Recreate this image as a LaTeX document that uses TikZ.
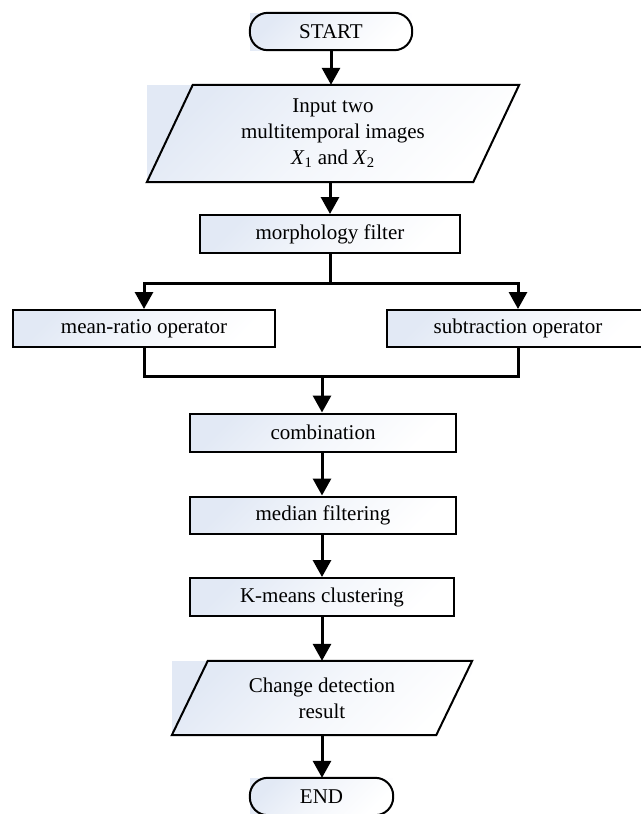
\documentclass[tikz,border=0pt]{standalone}
\usepackage{fontspec}
\setmainfont{Liberation Serif}
\usetikzlibrary{arrows.meta,calc}
\definecolor{paleblue}{RGB}{226,233,245}
\begin{document}
\begin{tikzpicture}[x=1pt,y=-1pt,
  font=\fontsize{21}{26}\selectfont,
  shadebox/.style={rectangle, inner sep=0pt, shading=axis, top color=paleblue, bottom color=white, middle color=white!60!paleblue, shading angle=45, align=center},
  procbox/.style={shadebox, draw, line width=2pt},
  outline/.style={line width=2pt, line join=miter},
  arr/.style={line width=3pt, -{Triangle[width=18pt,length=17pt]}},
  link/.style={line width=3pt}
]
\useasboundingbox (0,0) rectangle (640,814);

% START terminal
\node[shadebox, minimum width=162pt, minimum height=37pt] (start) at (331,31.5) {START};
\draw[outline, rounded corners=18pt] (start.north west) rectangle (start.south east);

% input parallelogram
\node[shadebox, minimum width=372pt, minimum height=97pt] (in) at (333,133.5)
  {Input two\\multitemporal images\\\textit{X}\textsubscript{1} and \textit{X}\textsubscript{2}};
\draw[outline] ($(in.north west)+(46,0)$) -- (in.north east) -- ($(in.south east)+(-46,0)$) -- (in.south west) -- cycle;

% process boxes
\node[procbox, minimum width=260pt, minimum height=38pt] (morph) at (330,234) {morphology filter};
\node[procbox, minimum width=262pt, minimum height=37pt] (mean) at (144,328.5) {mean-ratio operator};
\node[procbox, minimum width=262pt, minimum height=37pt] (sub) at (518,328.5) {subtraction operator};
\node[procbox, minimum width=266pt, minimum height=38pt] (comb) at (323,432.5) {combination};
\node[procbox, minimum width=266pt, minimum height=37pt] (med) at (323,515) {median filtering};
\node[procbox, minimum width=264pt, minimum height=38pt] (km) at (322,597) {K-means clustering};

% output parallelogram
\node[shadebox, minimum width=300pt, minimum height=74pt] (out) at (322,698) {Change detection\\result};
\draw[outline] ($(out.north west)+(36,0)$) -- (out.north east) -- ($(out.south east)+(-36,0)$) -- (out.south west) -- cycle;

% END terminal
\node[shadebox, minimum width=143pt, minimum height=37pt] (end) at (321.5,796.5) {END};
\draw[outline, rounded corners=18pt] (end.north west) rectangle (end.south east);

% connectors
\draw[arr] (start.south) -- (start.south |- in.north);
\draw[arr] (morph.north |- in.south) -- (morph.north);
\draw[link] (morph.south) -- ++(0,29) coordinate (sp);
\draw[arr] (sp) -| (mean.north);
\draw[arr] (sp) -| (sub.north);
\draw[link] (mean.south) -- ++(0,28) -| (sub.south);
\coordinate (mj) at (322,375);
\draw[arr] (mj) -- (mj |- comb.north);
\draw[arr] (comb.south -| mj) -- (mj |- med.north);
\draw[arr] (med.south -| mj) -- (mj |- km.north);
\draw[arr] (km.south -| mj) -- (mj |- out.north);
\draw[arr] (out.south -| mj) -- (mj |- end.north);
\end{tikzpicture}
\end{document}
